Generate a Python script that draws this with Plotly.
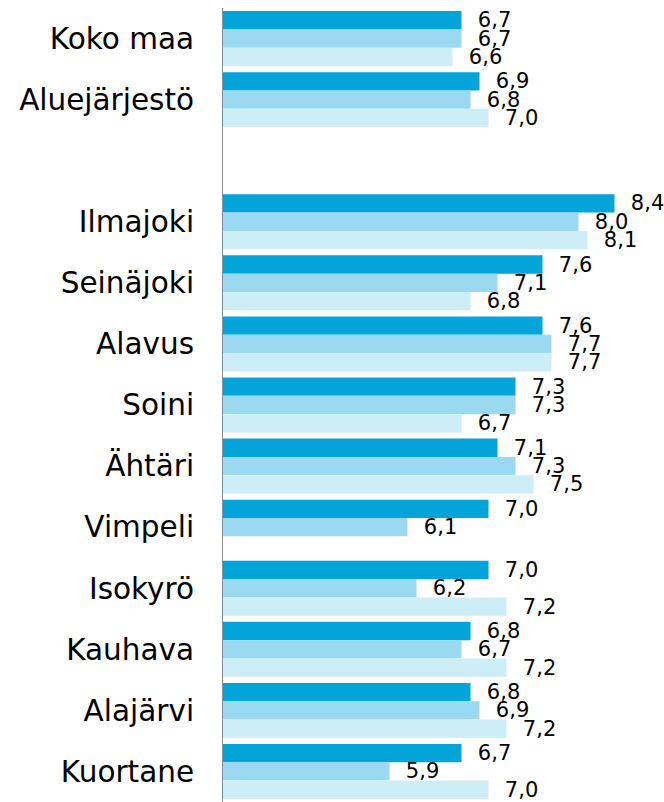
import plotly.graph_objects as go

categories = ["Koko maa", "Aluejärjestö", " ", "Ilmajoki", "Seinäjoki", "Alavus", "Soini",
              "Ähtäri", "Vimpeli", "Isokyrö", "Kauhava", "Alajärvi", "Kuortane"]
series_a = [6.7, 6.9, None, 8.4, 7.6, 7.6, 7.3, 7.1, 7.0, 7.0, 6.8, 6.8, 6.7]
series_b = [6.7, 6.8, None, 8.0, 7.1, 7.7, 7.3, 7.3, 6.1, 6.2, 6.7, 6.9, 5.9]
series_c = [6.6, 7.0, None, 8.1, 6.8, 7.7, 6.7, 7.5, None, 7.2, 7.2, 7.2, 7.0]

colors = ["#02A4DA", "#9AD9F0", "#CDEDF7"]

fig = go.Figure()
for vals, col in zip([series_a, series_b, series_c], colors):
    fig.add_trace(go.Bar(
        y=categories, x=vals, orientation="h",
        marker=dict(color=col, line=dict(width=0)),
        texttemplate="\u00a0\u00a0%{x:.1f}",
        textposition="outside",
        constraintext="none",
        cliponaxis=False,
        textfont=dict(family="DejaVu Sans", size=21, color="#000000"),
        showlegend=False,
        hoverinfo="skip",
    ))

fig.update_layout(
    width=664, height=802,
    margin=dict(l=223, r=0, t=8, b=0),
    barmode="group", bargap=0.1, bargroupgap=0,
    separators=", ",
    plot_bgcolor="white", paper_bgcolor="white",
    font=dict(family="DejaVu Sans", color="#000000"),
    xaxis=dict(range=[4.05, 8.95], visible=False, fixedrange=True),
    yaxis=dict(
        type="category", categoryorder="array", categoryarray=categories,
        autorange="reversed", showline=True, linecolor="#8C8C8C", linewidth=1,
        showgrid=False, ticks="", ticklabelstandoff=22,
        tickfont=dict(family="DejaVu Sans", size=29.5, color="#000000"),
        zeroline=False,
    ),
)

fig.write_html("out.html")
